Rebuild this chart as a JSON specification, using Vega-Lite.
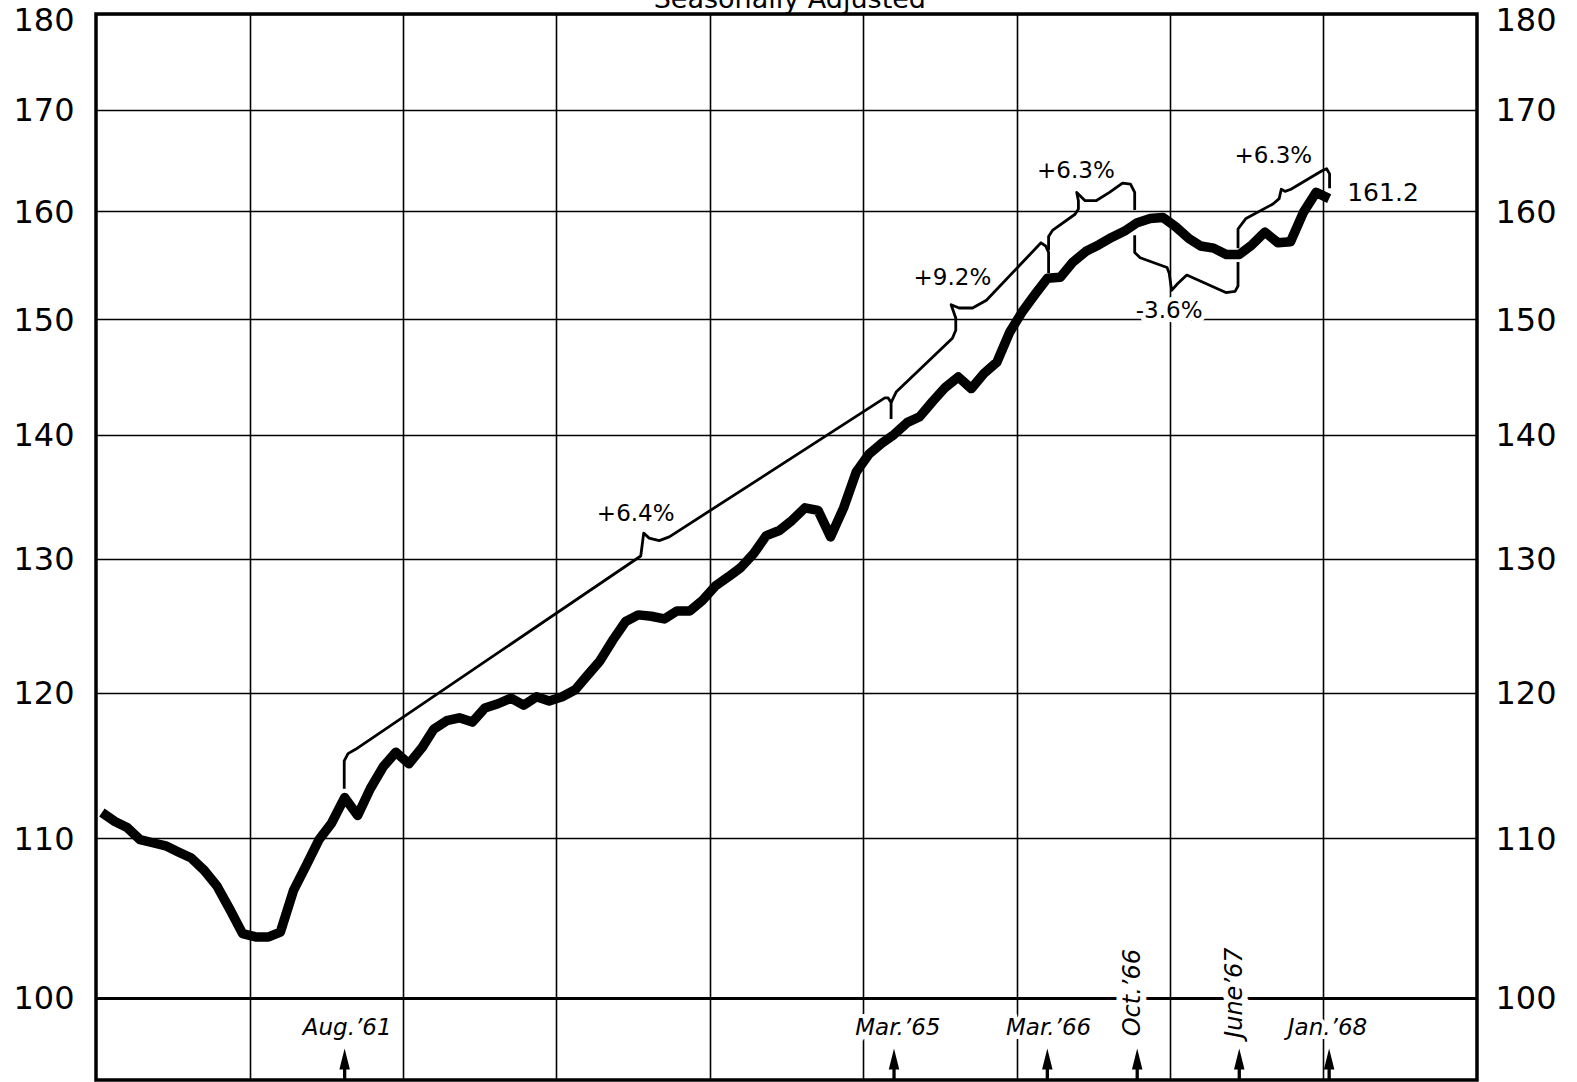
{
  "$schema": "https://vega.github.io/schema/vega-lite/v6.json",
  "width": 1381,
  "height": 1066,
  "autosize": {"type": "none"},
  "padding": {"left": 96, "top": 14, "right": 100, "bottom": 2},
  "background": "white",
  "config": {"view": {"stroke": "black", "strokeWidth": 3.5}, "font": "DejaVu Sans"},
  "datasets": {
    "ip": [
      {"date": "1960-01-15", "v": 111.7}, {"date": "1960-02-15", "v": 111.1}, {"date": "1960-03-15", "v": 110.7},
      {"date": "1960-04-15", "v": 109.9}, {"date": "1960-05-15", "v": 109.7}, {"date": "1960-06-15", "v": 109.5},
      {"date": "1960-07-15", "v": 109.1}, {"date": "1960-08-15", "v": 108.7}, {"date": "1960-09-15", "v": 107.9},
      {"date": "1960-10-15", "v": 106.9}, {"date": "1960-11-15", "v": 105.4}, {"date": "1960-12-15", "v": 103.9},
      {"date": "1961-01-15", "v": 103.7}, {"date": "1961-02-15", "v": 103.7}, {"date": "1961-03-15", "v": 104.0},
      {"date": "1961-04-15", "v": 106.6}, {"date": "1961-05-15", "v": 108.2}, {"date": "1961-06-15", "v": 109.9},
      {"date": "1961-07-15", "v": 111.0}, {"date": "1961-08-15", "v": 112.7}, {"date": "1961-09-15", "v": 111.5},
      {"date": "1961-10-15", "v": 113.3}, {"date": "1961-11-15", "v": 114.8}, {"date": "1961-12-15", "v": 115.8},
      {"date": "1962-01-15", "v": 115.0}, {"date": "1962-02-15", "v": 116.1}, {"date": "1962-03-15", "v": 117.4},
      {"date": "1962-04-15", "v": 118.0}, {"date": "1962-05-15", "v": 118.2}, {"date": "1962-06-15", "v": 117.9},
      {"date": "1962-07-15", "v": 118.9}, {"date": "1962-08-15", "v": 119.2}, {"date": "1962-09-15", "v": 119.6},
      {"date": "1962-10-15", "v": 119.1}, {"date": "1962-11-15", "v": 119.7}, {"date": "1962-12-15", "v": 119.4},
      {"date": "1963-01-15", "v": 119.7}, {"date": "1963-02-15", "v": 120.2}, {"date": "1963-03-15", "v": 121.2},
      {"date": "1963-04-15", "v": 122.3}, {"date": "1963-05-15", "v": 123.8}, {"date": "1963-06-15", "v": 125.2},
      {"date": "1963-07-15", "v": 125.7}, {"date": "1963-08-15", "v": 125.6}, {"date": "1963-09-15", "v": 125.4},
      {"date": "1963-10-15", "v": 126.0}, {"date": "1963-11-15", "v": 126.0}, {"date": "1963-12-15", "v": 126.8},
      {"date": "1964-01-15", "v": 127.9}, {"date": "1964-02-15", "v": 128.6}, {"date": "1964-03-15", "v": 129.3},
      {"date": "1964-04-15", "v": 130.4}, {"date": "1964-05-15", "v": 131.8}, {"date": "1964-06-15", "v": 132.2},
      {"date": "1964-07-15", "v": 133.0}, {"date": "1964-08-15", "v": 134.0}, {"date": "1964-09-15", "v": 133.8},
      {"date": "1964-10-15", "v": 131.7}, {"date": "1964-11-15", "v": 134.0}, {"date": "1964-12-15", "v": 136.9},
      {"date": "1965-01-15", "v": 138.4}, {"date": "1965-02-15", "v": 139.3}, {"date": "1965-03-15", "v": 140.0},
      {"date": "1965-04-15", "v": 141.0}, {"date": "1965-05-15", "v": 141.5}, {"date": "1965-06-15", "v": 142.8},
      {"date": "1965-07-15", "v": 144.0}, {"date": "1965-08-15", "v": 144.9}, {"date": "1965-09-15", "v": 143.9},
      {"date": "1965-10-15", "v": 145.2}, {"date": "1965-11-15", "v": 146.2}, {"date": "1965-12-15", "v": 148.8},
      {"date": "1966-01-15", "v": 150.7}, {"date": "1966-02-15", "v": 152.3}, {"date": "1966-03-15", "v": 153.7},
      {"date": "1966-04-15", "v": 153.8}, {"date": "1966-05-15", "v": 155.2}, {"date": "1966-06-15", "v": 156.2},
      {"date": "1966-07-15", "v": 156.8}, {"date": "1966-08-15", "v": 157.5}, {"date": "1966-09-15", "v": 158.1},
      {"date": "1966-10-15", "v": 158.9}, {"date": "1966-11-15", "v": 159.3}, {"date": "1966-12-15", "v": 159.4},
      {"date": "1967-01-15", "v": 158.5}, {"date": "1967-02-15", "v": 157.4}, {"date": "1967-03-15", "v": 156.7},
      {"date": "1967-04-15", "v": 156.5}, {"date": "1967-05-15", "v": 155.9}, {"date": "1967-06-15", "v": 155.9},
      {"date": "1967-07-15", "v": 156.8}, {"date": "1967-08-15", "v": 158.0}, {"date": "1967-09-15", "v": 157.0},
      {"date": "1967-10-15", "v": 157.1}, {"date": "1967-11-15", "v": 159.9}, {"date": "1967-12-15", "v": 161.8},
      {"date": "1968-01-15", "v": 161.2}
    ],
    "brackets": [
      {"b": 1, "i": 0, "date": "1961-08-14", "v": 113.3}, {"b": 1, "i": 1, "date": "1961-08-14", "v": 115.2},
      {"b": 1, "i": 2, "date": "1961-08-23", "v": 115.7}, {"b": 1, "i": 3, "date": "1961-09-10", "v": 116.0},
      {"b": 1, "i": 4, "date": "1963-07-21", "v": 130.2}, {"b": 1, "i": 5, "date": "1963-07-28", "v": 132.0},
      {"b": 1, "i": 6, "date": "1963-08-10", "v": 131.6}, {"b": 1, "i": 7, "date": "1963-09-03", "v": 131.4},
      {"b": 1, "i": 8, "date": "1963-09-27", "v": 131.7}, {"b": 1, "i": 9, "date": "1965-02-21", "v": 143.1},
      {"b": 1, "i": 10, "date": "1965-03-01", "v": 143.1}, {"b": 1, "i": 11, "date": "1965-03-08", "v": 142.7},
      {"b": 1, "i": 12, "date": "1965-03-08", "v": 141.3},
      {"b": 2, "i": 0, "date": "1965-03-08", "v": 142.7}, {"b": 2, "i": 1, "date": "1965-03-20", "v": 143.6},
      {"b": 2, "i": 2, "date": "1965-08-01", "v": 148.3}, {"b": 2, "i": 3, "date": "1965-08-09", "v": 149.0},
      {"b": 2, "i": 4, "date": "1965-08-09", "v": 150.1}, {"b": 2, "i": 5, "date": "1965-07-29", "v": 151.3},
      {"b": 2, "i": 6, "date": "1965-08-17", "v": 151.0}, {"b": 2, "i": 7, "date": "1965-09-18", "v": 151.0},
      {"b": 2, "i": 8, "date": "1965-10-21", "v": 151.7}, {"b": 2, "i": 9, "date": "1966-02-28", "v": 157.0},
      {"b": 2, "i": 10, "date": "1966-03-11", "v": 156.7}, {"b": 2, "i": 11, "date": "1966-03-18", "v": 156.1},
      {"b": 2, "i": 12, "date": "1966-03-18", "v": 154.2},
      {"b": 3, "i": 0, "date": "1966-03-18", "v": 156.3}, {"b": 3, "i": 1, "date": "1966-03-18", "v": 157.6},
      {"b": 3, "i": 2, "date": "1966-03-28", "v": 158.2}, {"b": 3, "i": 3, "date": "1966-05-20", "v": 159.7},
      {"b": 3, "i": 4, "date": "1966-05-28", "v": 160.2}, {"b": 3, "i": 5, "date": "1966-05-28", "v": 161.0},
      {"b": 3, "i": 6, "date": "1966-05-24", "v": 161.8}, {"b": 3, "i": 7, "date": "1966-06-13", "v": 161.0},
      {"b": 3, "i": 8, "date": "1966-07-09", "v": 161.0}, {"b": 3, "i": 9, "date": "1966-08-10", "v": 161.8},
      {"b": 3, "i": 10, "date": "1966-09-10", "v": 162.7}, {"b": 3, "i": 11, "date": "1966-09-29", "v": 162.6},
      {"b": 3, "i": 12, "date": "1966-10-09", "v": 161.8}, {"b": 3, "i": 13, "date": "1966-10-09", "v": 160.1},
      {"b": 4, "i": 0, "date": "1966-10-09", "v": 157.7}, {"b": 4, "i": 1, "date": "1966-10-09", "v": 156.1},
      {"b": 4, "i": 2, "date": "1966-10-22", "v": 155.6}, {"b": 4, "i": 3, "date": "1966-12-25", "v": 154.7},
      {"b": 4, "i": 4, "date": "1966-12-30", "v": 154.2}, {"b": 4, "i": 5, "date": "1967-01-05", "v": 152.6},
      {"b": 4, "i": 6, "date": "1967-01-19", "v": 153.2}, {"b": 4, "i": 7, "date": "1967-02-10", "v": 154.0},
      {"b": 4, "i": 8, "date": "1967-05-14", "v": 152.4}, {"b": 4, "i": 9, "date": "1967-06-05", "v": 152.5},
      {"b": 4, "i": 10, "date": "1967-06-12", "v": 153.0}, {"b": 4, "i": 11, "date": "1967-06-12", "v": 155.2},
      {"b": 5, "i": 0, "date": "1967-06-12", "v": 156.5}, {"b": 5, "i": 1, "date": "1967-06-12", "v": 158.3},
      {"b": 5, "i": 2, "date": "1967-07-01", "v": 159.3}, {"b": 5, "i": 3, "date": "1967-09-04", "v": 160.7},
      {"b": 5, "i": 4, "date": "1967-09-18", "v": 161.2}, {"b": 5, "i": 5, "date": "1967-09-23", "v": 162.1},
      {"b": 5, "i": 6, "date": "1967-10-02", "v": 161.9}, {"b": 5, "i": 7, "date": "1967-10-16", "v": 162.1},
      {"b": 5, "i": 8, "date": "1967-12-29", "v": 163.9}, {"b": 5, "i": 9, "date": "1968-01-09", "v": 164.1},
      {"b": 5, "i": 10, "date": "1968-01-16", "v": 163.6}, {"b": 5, "i": 11, "date": "1968-01-16", "v": 162.2}
    ],
    "pct": [
      {"date": "1963-07-09", "v": 133.5, "text": "+6.4%"},
      {"date": "1965-08-01", "v": 153.7, "text": "+9.2%"},
      {"date": "1966-05-22", "v": 163.9, "text": "+6.3%"},
      {"date": "1967-09-04", "v": 165.4, "text": "+6.3%"}
    ],
    "pctBoxed": [
      {"date": "1966-12-30", "v": 150.7, "text": "-3.6%"}
    ],
    "months": [
      {"date": "1961-08-21", "text": "Aug.’61"},
      {"date": "1965-03-24", "text": "Mar.’65"},
      {"date": "1966-03-18", "text": "Mar.’66"},
      {"date": "1968-01-11", "text": "Jan.’68"}
    ],
    "monthsV": [
      {"date": "1966-10-06", "text": "Oct.’66"},
      {"date": "1967-06-05", "text": "June’67"}
    ],
    "arrows": [
      {"date": "1961-08-15"}, {"date": "1965-03-15"}, {"date": "1966-03-15"},
      {"date": "1966-10-15"}, {"date": "1967-06-15"}, {"date": "1968-01-15"}
    ],
    "last": [{"date": "1968-02-27", "v": 161.7, "text": "161.2"}],
    "title": [{"date": "1964-07-10", "text": "Seasonally Adjusted"}]
  },
  "resolve": {"axis": {"y": "independent"}},
  "encoding": {
    "x": {
      "field": "date", "type": "temporal",
      "scale": {"type": "utc", "domain": [{"year": 1960, "month": 1, "date": 1, "utc": true}, {"year": 1969, "month": 1, "date": 1, "utc": true}]},
      "axis": {
        "values": [
          {"year": 1961, "month": 1, "date": 1, "utc": true}, {"year": 1962, "month": 1, "date": 1, "utc": true},
          {"year": 1963, "month": 1, "date": 1, "utc": true}, {"year": 1964, "month": 1, "date": 1, "utc": true},
          {"year": 1965, "month": 1, "date": 1, "utc": true}, {"year": 1966, "month": 1, "date": 1, "utc": true},
          {"year": 1967, "month": 1, "date": 1, "utc": true}, {"year": 1968, "month": 1, "date": 1, "utc": true}
        ],
        "grid": true, "gridColor": "black", "gridWidth": 1.6, "gridOpacity": 1,
        "labels": false, "ticks": false, "domain": false, "title": null
      }
    }
  },
  "layer": [
    {
      "data": {"name": "ip"},
      "mark": {"type": "line", "color": "black", "strokeWidth": 9.5, "strokeCap": "butt", "strokeJoin": "round"},
      "encoding": {
        "y": {
          "field": "v", "type": "quantitative",
          "scale": {"type": "log", "domain": [95.2, 180], "nice": false},
          "axis": {
            "orient": "left",
            "values": [100, 110, 120, 130, 140, 150, 160, 170, 180],
            "grid": true, "gridColor": "black", "gridOpacity": 1,
            "gridWidth": {"condition": {"test": "datum.value === 100", "value": 3}, "value": 1.6},
            "domain": false, "ticks": false, "title": null,
            "labelOffset": {"condition": {"test": "datum.value === 180", "value": 6}, "value": 1},
            "labelFontSize": 32, "labelColor": "black", "labelPadding": 22, "labelFont": "DejaVu Sans", "labelOverlap": false
          }
        }
      }
    },
    {
      "data": {"name": "brackets"},
      "mark": {"type": "line", "color": "black", "strokeWidth": 2.8, "strokeJoin": "round"},
      "encoding": {
        "y": {
          "field": "v", "type": "quantitative",
          "axis": {
            "orient": "right",
            "values": [100, 110, 120, 130, 140, 150, 160, 170, 180],
            "grid": false, "domain": false, "ticks": false, "title": null,
            "labelOffset": {"condition": {"test": "datum.value === 180", "value": 6}, "value": 1},
            "labelFontSize": 32, "labelColor": "black", "labelPadding": 18, "labelFont": "DejaVu Sans", "labelOverlap": false
          }
        },
        "detail": {"field": "b", "type": "nominal"},
        "order": {"field": "i", "type": "quantitative"}
      }
    },
    {
      "data": {"name": "arrows"},
      "mark": {"type": "rule", "color": "black", "strokeWidth": 3.3},
      "encoding": {
        "y": {"datum": 95.2, "type": "quantitative", "axis": null},
        "y2": {"datum": 96.2}
      }
    },
    {
      "data": {"name": "arrows"},
      "mark": {"type": "point", "shape": "M0,-1L0.5,1L-0.5,1Z", "size": 440, "filled": true, "color": "black", "opacity": 1, "strokeWidth": 0},
      "encoding": {
        "y": {"datum": 96.4, "type": "quantitative", "axis": null}
      }
    },
    {
      "data": {"name": "pct"},
      "mark": {"type": "text", "fontSize": 23, "color": "black", "align": "center", "baseline": "middle"},
      "encoding": {
        "y": {"field": "v", "type": "quantitative", "axis": null},
        "text": {"field": "text"}
      }
    },
    {
      "data": {"name": "pctBoxed"},
      "mark": {"type": "text", "fontSize": 23, "color": "white", "stroke": "white", "strokeWidth": 9, "align": "center", "baseline": "middle"},
      "encoding": {
        "y": {"field": "v", "type": "quantitative", "axis": null},
        "text": {"field": "text"}
      }
    },
    {
      "data": {"name": "pctBoxed"},
      "mark": {"type": "text", "fontSize": 23, "color": "black", "align": "center", "baseline": "middle"},
      "encoding": {
        "y": {"field": "v", "type": "quantitative", "axis": null},
        "text": {"field": "text"}
      }
    },
    {
      "data": {"name": "months"},
      "mark": {"type": "text", "fontSize": 23, "fontStyle": "italic", "color": "white", "stroke": "white", "strokeWidth": 8, "align": "center", "baseline": "middle"},
      "encoding": {
        "y": {"datum": 98.2, "type": "quantitative", "axis": null},
        "text": {"field": "text"}
      }
    },
    {
      "data": {"name": "months"},
      "mark": {"type": "text", "fontSize": 23, "fontStyle": "italic", "color": "black", "align": "center", "baseline": "middle"},
      "encoding": {
        "y": {"datum": 98.2, "type": "quantitative", "axis": null},
        "text": {"field": "text"}
      }
    },
    {
      "data": {"name": "monthsV"},
      "mark": {"type": "text", "fontSize": 24, "fontStyle": "italic", "angle": 270, "color": "white", "stroke": "white", "strokeWidth": 12, "align": "center", "baseline": "middle"},
      "encoding": {
        "y": {"datum": 100.3, "type": "quantitative", "axis": null},
        "text": {"field": "text"}
      }
    },
    {
      "data": {"name": "monthsV"},
      "mark": {"type": "text", "fontSize": 24, "fontStyle": "italic", "angle": 270, "color": "black", "align": "center", "baseline": "middle"},
      "encoding": {
        "y": {"datum": 100.3, "type": "quantitative", "axis": null},
        "text": {"field": "text"}
      }
    },
    {
      "data": {"name": "last"},
      "mark": {"type": "text", "fontSize": 25, "color": "black", "align": "left", "baseline": "middle"},
      "encoding": {
        "y": {"field": "v", "type": "quantitative", "axis": null},
        "text": {"field": "text"}
      }
    },
    {
      "data": {"name": "title"},
      "mark": {"type": "text", "fontSize": 27, "color": "black", "align": "center", "baseline": "alphabetic", "dy": -6},
      "encoding": {
        "y": {"datum": 180, "type": "quantitative", "axis": null},
        "text": {"field": "text"}
      }
    }
  ]
}
